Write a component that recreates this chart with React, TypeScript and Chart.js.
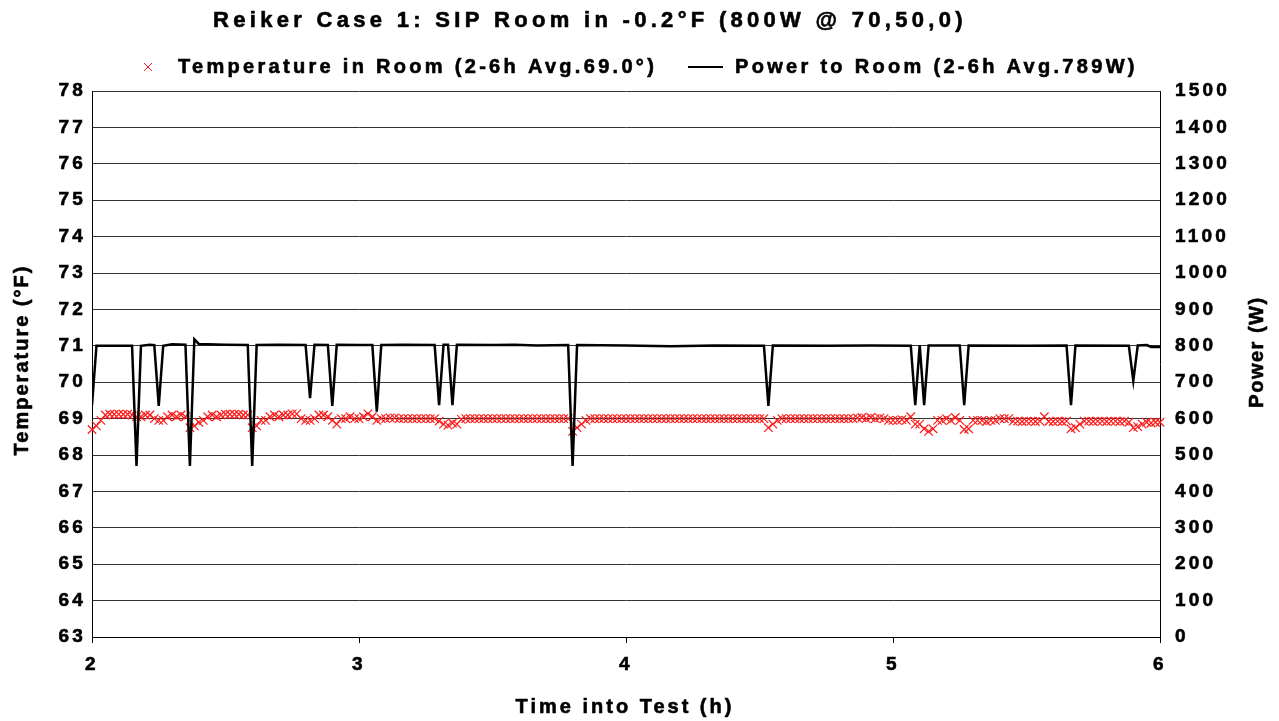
import React, { useEffect, useRef } from 'react';
import { Chart, registerables } from 'chart.js';

Chart.register(...registerables);

const TITLE = 'Reiker Case 1: SIP Room in -0.2°F (800W @ 70,50,0)';
const TEMP_LABEL = 'Temperature in Room (2-6h Avg.69.0°)';
const POWER_LABEL = 'Power to Room (2-6h Avg.789W)';
const X_TITLE = 'Time into Test (h)';
const Y_TITLE = 'Temperature (°F)';
const Y1_TITLE = 'Power (W)';

const START_HOUR = 2;
const SAMPLE_MINUTES = 1;

// Room temperature (°F), one reading per minute from 2.0 h to 6.0 h
const tempValues = [
  68.70, 68.80, 68.95, 69.10, 69.12, 69.12, 69.12, 69.12, 69.12, 69.10, // 0
  69.05, 69.05, 69.10, 69.10, 69.00, 68.95, 68.95, 69.05, 69.10, 69.05, // 10
  69.10, 69.05, 68.75, 68.80, 68.90, 68.95, 69.05, 69.10, 69.05, 69.10, // 20
  69.12, 69.12, 69.12, 69.12, 69.10, 69.10, 68.75, 68.80, 68.95, 68.95, // 30
  69.05, 69.10, 69.05, 69.10, 69.10, 69.13, 69.13, 69.00, 68.95, 68.95, // 40
  69.00, 69.10, 69.10, 69.05, 68.95, 68.85, 69.00, 69.00, 69.05, 69.00, // 50
  69.00, 69.05, 69.13, 69.05, 68.95, 69.00, 69.00, 69.02, 69.02, 69.00, // 60
  69.00, 69.00, 69.00, 69.00, 69.00, 69.00, 69.00, 69.00, 68.93, 68.85, // 70
  68.82, 68.88, 68.85, 68.98, 69.00, 69.00, 69.00, 69.00, 69.00, 69.00, // 80
  69.00, 69.00, 69.00, 69.00, 69.00, 69.00, 69.00, 69.00, 69.00, 69.00, // 90
  69.00, 69.00, 69.00, 69.00, 69.00, 69.00, 69.00, 69.00, 68.65, 68.75, // 100
  68.85, 68.95, 69.00, 69.00, 69.00, 69.00, 69.00, 69.00, 69.00, 69.00, // 110
  69.00, 69.00, 69.00, 69.00, 69.00, 69.00, 69.00, 69.00, 69.00, 69.00, // 120
  69.00, 69.00, 69.00, 69.00, 69.00, 69.00, 69.00, 69.00, 69.00, 69.00, // 130
  69.00, 69.00, 69.00, 69.00, 69.00, 69.00, 69.00, 69.00, 69.00, 69.00, // 140
  69.00, 69.00, 68.75, 68.85, 68.95, 69.00, 69.00, 69.00, 69.00, 69.00, // 150
  69.00, 69.00, 69.00, 69.00, 69.00, 69.00, 69.00, 69.00, 69.00, 69.00, // 160
  69.00, 69.00, 69.02, 69.03, 69.00, 69.03, 69.00, 69.02, 69.00, 68.95, // 170
  68.95, 68.95, 68.97, 68.95, 69.05, 68.85, 68.85, 68.72, 68.65, 68.72, // 180
  68.95, 68.95, 69.00, 68.95, 69.03, 68.95, 68.70, 68.72, 68.95, 68.95, // 190
  68.95, 68.92, 68.95, 68.95, 69.00, 69.00, 69.00, 68.93, 68.93, 68.92, // 200
  68.93, 68.93, 68.92, 68.93, 69.05, 68.92, 68.92, 68.93, 68.92, 68.93, // 210
  68.72, 68.75, 68.85, 68.93, 68.93, 68.92, 68.93, 68.93, 68.92, 68.93, // 220
  68.93, 68.92, 68.93, 68.90, 68.75, 68.78, 68.85, 68.90, 68.88, 68.90, // 230
  68.90, // 240
];

// Power to room (W): vertices of the trace, minute after 2.0 h and watts
const powerMinutes = [
  0, 1, 9, 10, 11, 13, 14, 15, 16, 18, 21, 22, 23, 24, 30, 35, 36, 37, 42, 48,
  49, 50, 53, 54, 55, 60, 63, 64, 65, 70, 77, 78, 79, 80, 81, 82, 90, 95, 100, 107,
  108, 109, 120, 130, 140, 151, 152, 153, 165, 175, 184, 185, 186, 187, 188, 195, 196, 197, 210, 219,
  220, 221, 233, 234, 235, 237, 238, 240,
];
const powerWatts = [
  637, 800, 800, 470, 800, 803, 802, 635, 800, 804, 803, 470, 818, 805, 803, 802, 470, 802, 803, 802,
  656, 803, 802, 635, 803, 802, 802, 619, 802, 803, 802, 637, 803, 803, 637, 803, 802, 803, 801, 802,
  470, 802, 801, 799, 801, 800, 635, 801, 800, 801, 800, 637, 802, 637, 801, 801, 637, 801, 800, 801,
  637, 801, 800, 704, 801, 802, 797, 797,
];

const xTickValues = [2, 3, 4, 5, 6];

const FONT = '"Liberation Sans", Arial, Helvetica, sans-serif';
const RED = '#ff1a1a';

function heavyText(ctx: any, text: string, x: number, y: number) {
  ctx.fillText(text, x, y);
  ctx.strokeText(text, x, y);
}

const textPlugin = {
  id: 'customTexts',
  beforeDraw(chart: any) {
    (chart.ctx as any).letterSpacing = '3.2px';
  },
  afterDraw(chart: any) {
    const ctx = chart.ctx as any;
    ctx.save();
    ctx.fillStyle = '#000';
    ctx.textBaseline = 'middle';
    ctx.textAlign = 'left';
    ctx.lineJoin = 'round';

    ctx.font = `bold 22px ${FONT}`;
    ctx.letterSpacing = '4.3px';
    ctx.strokeStyle = '#000';
    ctx.lineWidth = 0.6;
    heavyText(ctx, TITLE, 213, 21);

    ctx.font = `bold 20px ${FONT}`;
    ctx.letterSpacing = '3.3px';
    // legend: temperature marker
    ctx.strokeStyle = RED;
    ctx.lineWidth = 1;
    ctx.beginPath();
    ctx.moveTo(144, 63); ctx.lineTo(152, 71);
    ctx.moveTo(152, 63); ctx.lineTo(144, 71);
    ctx.stroke();
    ctx.strokeStyle = '#000';
    ctx.lineWidth = 0.6;
    heavyText(ctx, TEMP_LABEL, 178, 67);
    // legend: power line
    ctx.lineWidth = 2;
    ctx.beginPath();
    ctx.moveTo(688, 67); ctx.lineTo(723, 67);
    ctx.stroke();
    ctx.lineWidth = 0.6;
    heavyText(ctx, POWER_LABEL, 735, 67);

    // axis titles
    ctx.letterSpacing = '3.0px';
    ctx.textAlign = 'center';
    heavyText(ctx, X_TITLE, 625, 707);

    ctx.save();
    ctx.translate(22, 360);
    ctx.rotate(-Math.PI / 2);
    ctx.letterSpacing = '2.0px';
    heavyText(ctx, Y_TITLE, 0, 0);
    ctx.restore();

    ctx.save();
    ctx.translate(1257, 352);
    ctx.rotate(-Math.PI / 2);
    ctx.letterSpacing = '1.5px';
    heavyText(ctx, Y1_TITLE, 0, 0);
    ctx.restore();

    ctx.restore();
    ctx.letterSpacing = '0px';
  },
};

export default function App() {
  const canvasRef = useRef<HTMLCanvasElement | null>(null);

  useEffect(() => {
    const canvas = canvasRef.current;
    if (!canvas) return;

    const tempPoints = tempValues.map((v, i) => ({ x: START_HOUR + (i * SAMPLE_MINUTES) / 60, y: v }));
    const powerPoints = powerMinutes.map((m, i) => ({ x: START_HOUR + m / 60, y: powerWatts[i] }));

    const tickFont = { family: FONT, size: 19, weight: 'bold' as const };
    const plain = (v: any) => String(v);

    const chart = new Chart(canvas, {
      type: 'line',
      data: {
        datasets: [
          {
            label: POWER_LABEL,
            data: powerPoints,
            yAxisID: 'y1',
            borderColor: '#000',
            borderWidth: 2.5,
            pointRadius: 0,
            tension: 0,
            fill: false,
          },
          {
            label: TEMP_LABEL,
            data: tempPoints,
            yAxisID: 'y',
            showLine: false,
            pointStyle: 'crossRot',
            pointRadius: 6,
            pointBorderWidth: 1.2,
            pointBorderColor: RED,
            pointBackgroundColor: RED,
            borderColor: RED,
            clip: 10,
          },
        ],
      },
      options: {
        animation: false,
        responsive: false,
        maintainAspectRatio: false,
        layout: { padding: { top: 91, left: 0, right: 0, bottom: 0 } },
        plugins: {
          legend: { display: false },
          title: { display: false },
          tooltip: { enabled: false },
        },
        scales: {
          x: {
            type: 'linear',
            position: 'bottom',
            min: 2,
            max: 6,
            afterBuildTicks: (scale: any) => {
              scale.ticks = xTickValues.map((v) => ({ value: v }));
            },
            ticks: { color: '#000', font: tickFont, padding: 10, maxRotation: 0, callback: plain, textStrokeColor: '#000', textStrokeWidth: 0.6 },
            grid: { drawOnChartArea: false, drawTicks: true, tickLength: 6, color: '#000' },
            border: { color: '#000', width: 1 },
            afterFit: (scale: any) => { scale.height = 84; },
          },
          y: {
            type: 'linear',
            position: 'left',
            min: 63,
            max: 78,
            ticks: { stepSize: 1, color: '#000', font: tickFont, padding: 6, callback: plain, textStrokeColor: '#000', textStrokeWidth: 0.6 },
            grid: { color: '#333', lineWidth: 1, drawTicks: false },
            border: { color: '#000', width: 1 },
            afterFit: (scale: any) => { scale.width = 92; },
          },
          y1: {
            type: 'linear',
            position: 'right',
            min: 0,
            max: 1500,
            ticks: { stepSize: 100, color: '#000', font: tickFont, padding: 15, callback: plain, textStrokeColor: '#000', textStrokeWidth: 0.6 },
            grid: { drawOnChartArea: false, drawTicks: false },
            border: { color: '#000', width: 1 },
            afterFit: (scale: any) => { scale.width = 119; },
          },
        },
      },
      plugins: [textPlugin],
    });

    return () => chart.destroy();
  }, []);

  return (
    <div style={{ position: 'fixed', left: 0, top: 0, width: 1279, height: 721, background: '#fff' }}>
      <canvas ref={canvasRef} width={1279} height={721} style={{ width: 1279, height: 721, display: 'block' }} />
    </div>
  );
}
